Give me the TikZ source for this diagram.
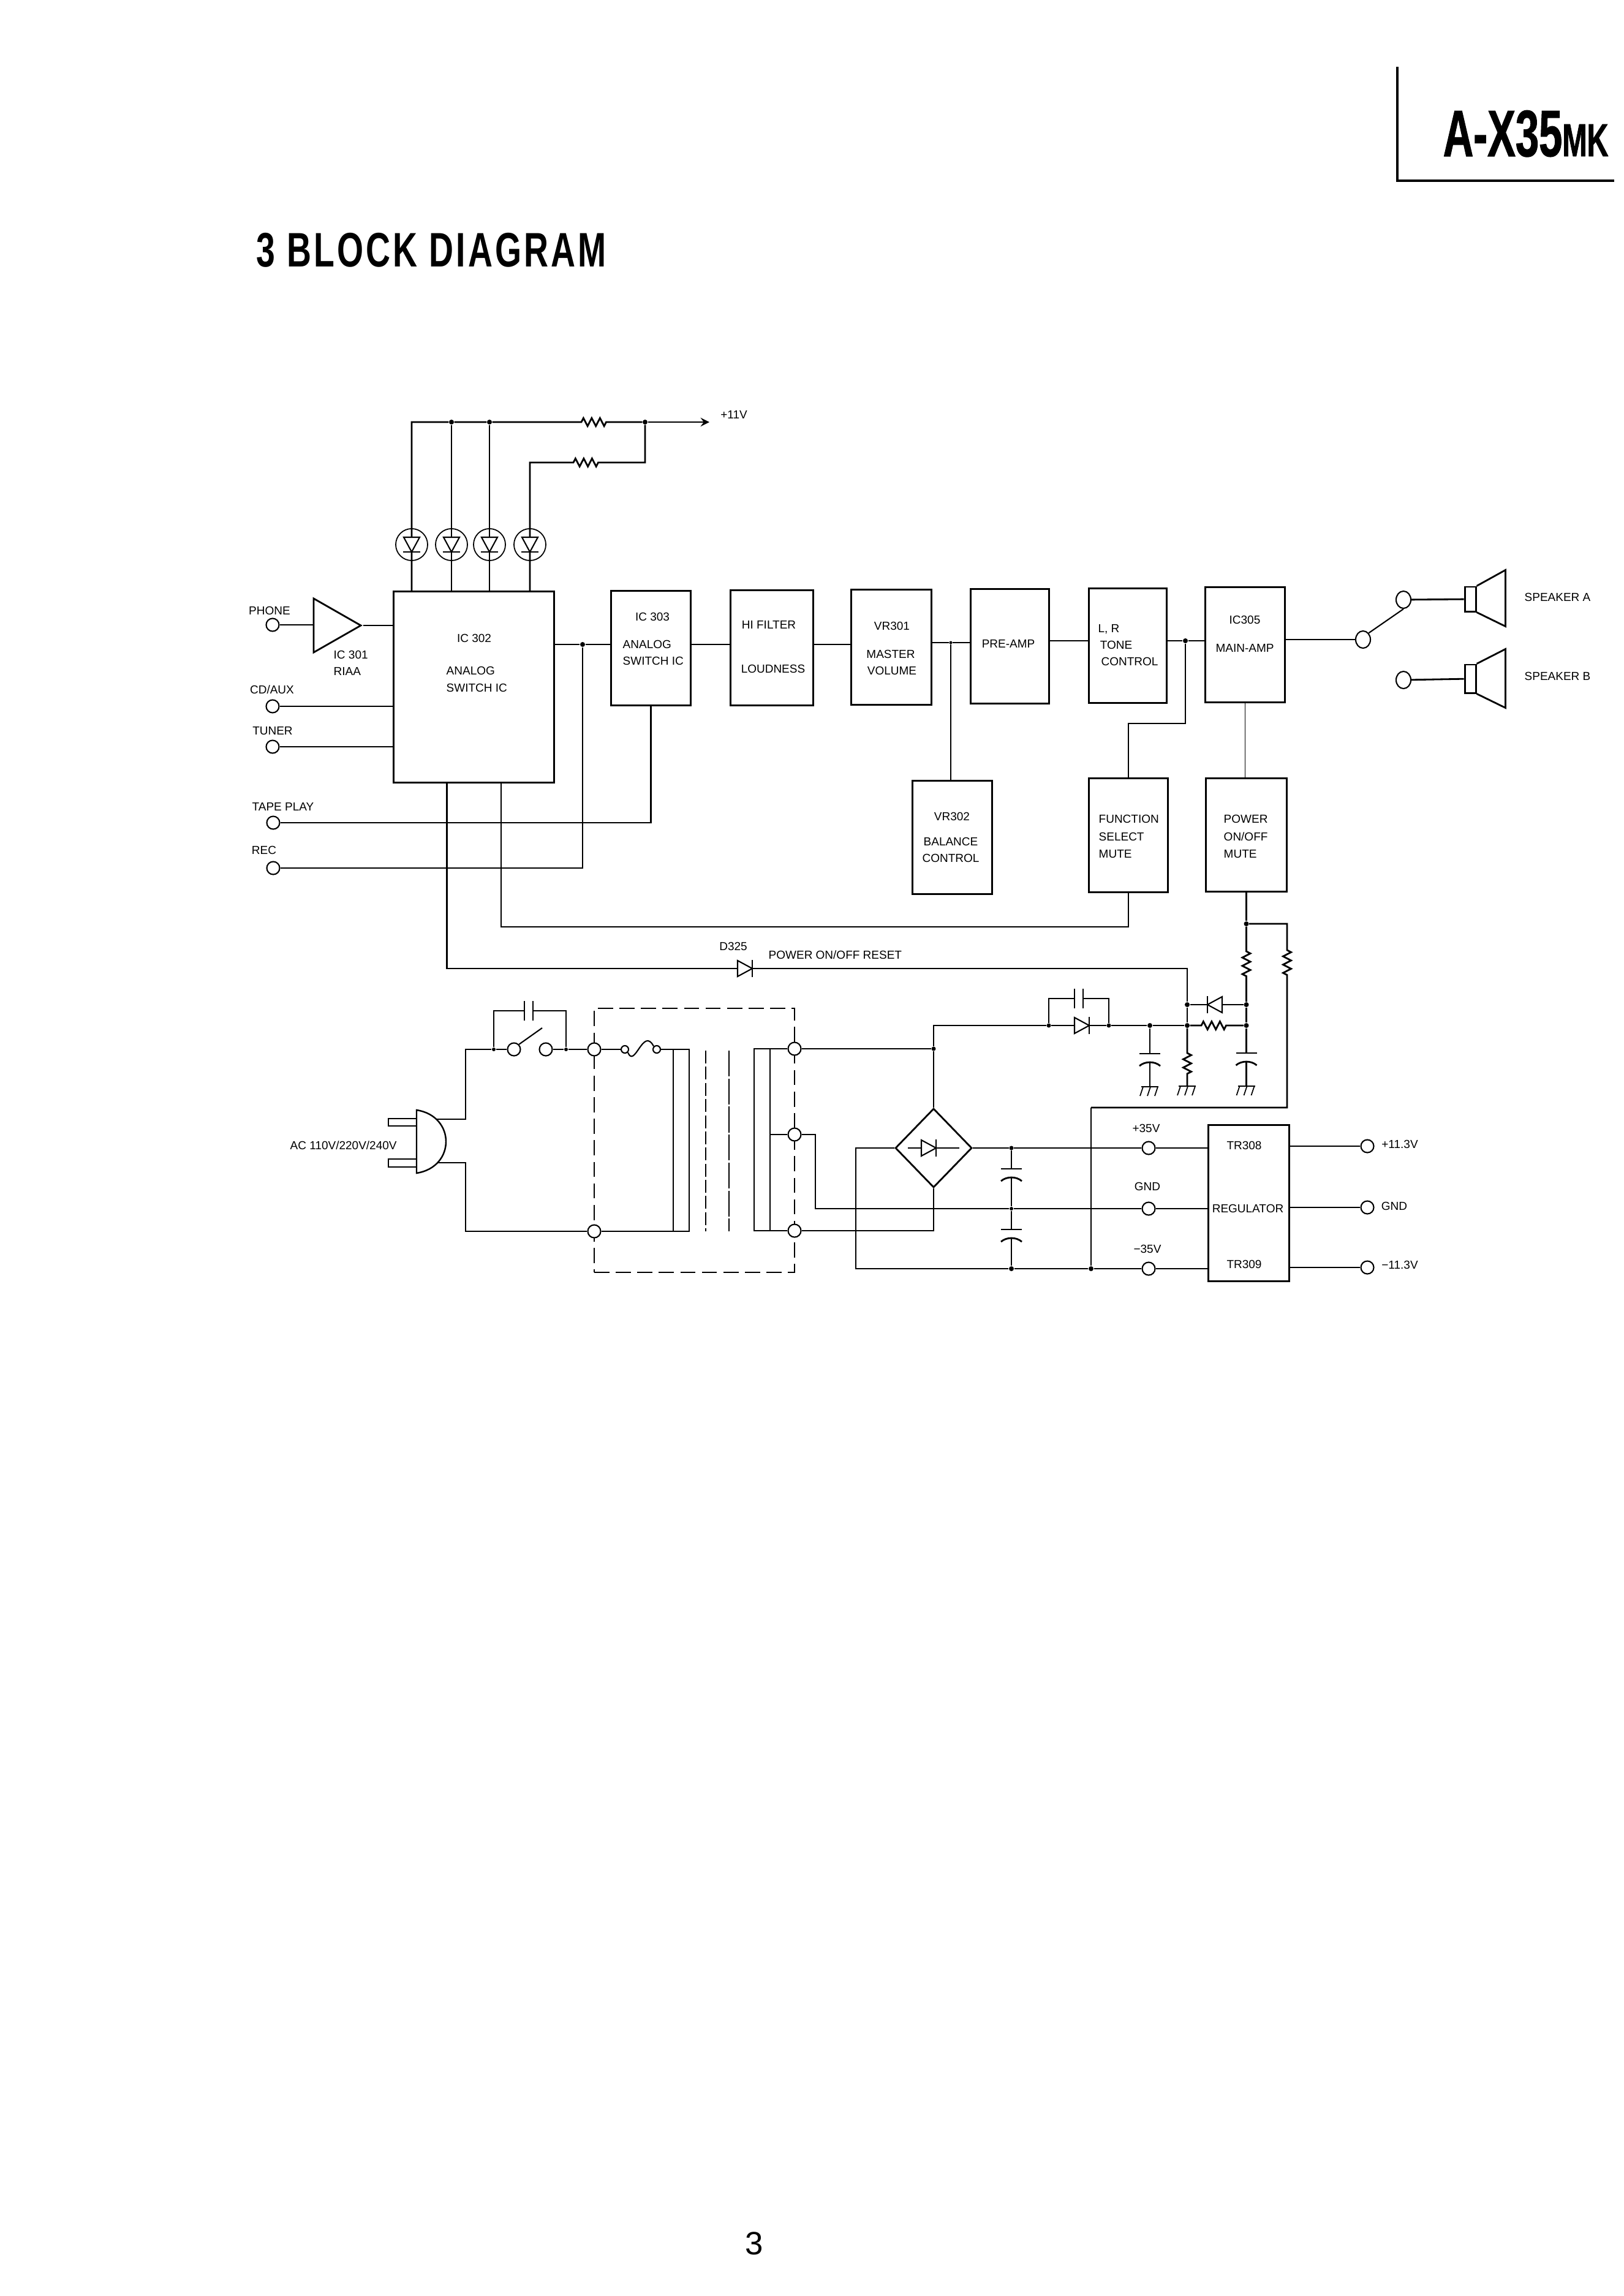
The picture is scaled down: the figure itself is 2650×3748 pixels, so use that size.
\documentclass[tikz,border=0pt]{standalone}
\usepackage{fontspec}
\setmainfont{Liberation Sans}
\newfontfamily\headfont[FakeStretch=0.70,LetterSpace=5]{Liberation Sans Bold}
\newfontfamily\modelfont[FakeStretch=0.64,FakeBold=1]{Liberation Sans Bold}
\usetikzlibrary{shapes.geometric,decorations.pathmorphing}
\begin{document}
\begin{tikzpicture}[x=0.01cm,y=-0.01cm,>=stealth,
  wire/.style={draw,line width=.8pt},
  thin wire/.style={draw,line width=.45pt},
  blockbox/.style={draw,line width=.85pt,inner sep=0},
  lab/.style={inner sep=0,font=\fontsize{5.4pt}{6pt}\selectfont},
  term/.style={circle,draw,line width=.6pt,fill=white,inner sep=0,minimum size=.21cm},
  smallterm/.style={circle,draw,line width=.6pt,fill=white,inner sep=0,minimum size=.12cm},
  spkterm/.style={ellipse,draw,line width=.6pt,fill=white,inner sep=0,minimum width=.24cm,minimum height=.28cm},
  ledring/.style={circle,draw,line width=.5pt,inner sep=0,minimum size=.52cm},
  dot/.style={circle,fill=black,inner sep=0,minimum size=.08cm},
  zz/.style={decoration={zigzag,segment length=.135cm,amplitude=.065cm}},
  diode/.pic={
    \draw[line width=.6pt,fill=white] (-12,-13) -- (-12,13) -- (12,0) -- cycle;
    \draw[line width=.8pt] (12,-14) -- (12,14);
    \coordinate (-in) at (-12,0);
    \coordinate (-out) at (12,0);
  },
  plaincap/.pic={
    \draw[line width=.6pt] (-7,-16) -- (-7,16);
    \draw[line width=.6pt] (7,-16) -- (7,16);
    \coordinate (-in) at (-7,0);
    \coordinate (-out) at (7,0);
  },
  ecap/.pic={
    \draw[line width=.8pt] (-17,-8) -- (17,-8);
    \draw[line width=.8pt] (-17,12) .. controls (-8,4) and (8,4) .. (17,12);
    \coordinate (-top) at (0,-8);
    \coordinate (-bot) at (0,6);
  },
  gnd/.pic={
    \draw[line width=.7pt] (-14,0) -- (14,0);
    \foreach \gx in {-11,1,13}
      \draw[line width=.5pt] (\gx,0) -- ++(-5,15);
    \coordinate (-top) at (0,0);
  }]
\useasboundingbox (0,0) rectangle (2650,3748);

% header
\draw[line width=1pt] (2281,109) -- (2281,295) -- (2635,295);
\node[inner sep=0,anchor=base west] (model) at (2355,255) {\modelfont\fontsize{30.5pt}{30pt}\selectfont A-X35\fontsize{21.5pt}{20pt}\selectfont MK};
\node[inner sep=0,anchor=base west] (title) at (418,435) {\headfont\fontsize{22.5pt}{24pt}\selectfont 3 BLOCK DIAGRAM};

% signal blocks
\node[blockbox,minimum width=2.61cm,minimum height=3.11cm] (ic302) at (773.5,1121.5) {};
\node[blockbox,minimum width=1.29cm,minimum height=1.86cm] (ic303) at (1062.5,1058) {};
\node[blockbox,minimum width=1.34cm,minimum height=1.87cm] (hifilter) at (1260,1057.5) {};
\node[blockbox,minimum width=1.30cm,minimum height=1.87cm] (vr301) at (1455,1056.5) {};
\node[blockbox,minimum width=1.27cm,minimum height=1.86cm] (preamp) at (1648.5,1055) {};
\node[blockbox,minimum width=1.26cm,minimum height=1.86cm] (tone) at (1841,1054) {};
\node[blockbox,minimum width=1.29cm,minimum height=1.87cm] (mainamp) at (2032.5,1052.5) {};
\node[blockbox,minimum width=1.29cm,minimum height=1.84cm] (vr302) at (1554.5,1367) {};
\node[blockbox,minimum width=1.28cm,minimum height=1.85cm] (function) at (1842,1363.5) {};
\node[blockbox,minimum width=1.31cm,minimum height=1.84cm] (power) at (2034.5,1363) {};
\node[blockbox,minimum width=1.31cm,minimum height=2.54cm] (regulator) at (2038.5,1964) {};

\node[lab] (ic302a) at (774,1042) {IC 302};
\node[lab,anchor=west] (ic302b) at (728,1095) {ANALOG};
\node[lab,anchor=west] (ic302c) at (728,1123) {SWITCH IC};
\node[lab] (ic303a) at (1065,1007) {IC 303};
\node[lab,anchor=west] (ic303b) at (1016,1052) {ANALOG};
\node[lab,anchor=west] (ic303c) at (1016,1079) {SWITCH IC};
\node[lab] (hifiltera) at (1255,1020) {HI FILTER};
\node[lab] (hifilterb) at (1262,1092) {LOUDNESS};
\node[lab] (vr301a) at (1456,1022) {VR301};
\node[lab] (vr301b) at (1454,1068) {MASTER};
\node[lab] (vr301c) at (1456,1095) {VOLUME};
\node[lab] (preampa) at (1646,1051) {PRE-AMP};
\node[lab] (tonea) at (1810,1027) {L, R};
\node[lab] (toneb) at (1822,1053) {TONE};
\node[lab] (tonec) at (1844,1080) {CONTROL};
\node[lab] (mainampa) at (2032,1012) {IC305};
\node[lab] (mainampb) at (2032,1058) {MAIN-AMP};
\node[lab] (vr302a) at (1554,1333) {VR302};
\node[lab] (vr302b) at (1552,1374) {BALANCE};
\node[lab] (vr302c) at (1552,1401) {CONTROL};
\node[lab,anchor=west] (functiona) at (1793,1337) {FUNCTION};
\node[lab,anchor=west] (functionb) at (1793,1366) {SELECT};
\node[lab,anchor=west] (functionc) at (1793,1394) {MUTE};
\node[lab,anchor=west] (powera) at (1997,1337) {POWER};
\node[lab,anchor=west] (powerb) at (1997,1366) {ON/OFF};
\node[lab,anchor=west] (powerc) at (1997,1394) {MUTE};
\node[lab] (tr308) at (2031,1870) {TR308};
\node[lab] (reglab) at (2037,1973) {REGULATOR};
\node[lab] (tr309) at (2031,2064) {TR309};

% inputs
\node[term] (phone) at (445,1020) {};
\node[term] (cdaux) at (445,1153) {};
\node[term] (tuner) at (445,1219) {};
\node[term] (tape) at (446,1343) {};
\node[term] (rec) at (446,1417) {};
\node[lab] (phonel) at (440,997) {PHONE};
\node[lab] (cdauxl) at (444,1126) {CD/AUX};
\node[lab] (tunerl) at (445,1193) {TUNER};
\node[lab,anchor=west] (tapel) at (411,1317) {TAPE PLAY};
\node[lab] (recl) at (431,1388) {REC};
\node[isosceles triangle,isosceles triangle stretches,draw,line width=.8pt,inner sep=0,minimum width=.88cm,minimum height=.77cm] (riaa) at (537.5,1021) {};
\node[lab,anchor=west] (riaaa) at (544,1069) {IC 301};
\node[lab,anchor=west] (riaab) at (544,1096) {RIAA};

\draw[wire] (phone) -- (riaa.lower side |- phone);
\draw[wire] (riaa.apex) -- (ic302.west |- riaa.apex);
\draw[wire] (cdaux) -- (ic302.west |- cdaux);
\draw[wire] (tuner) -- (ic302.west |- tuner);
\draw[wire] (tape) -| (ic303.south);
\node[dot] (sw) at (951,1052) {};
\draw[wire] (ic302.east |- sw) -- (sw) -- (ic303.west |- sw);
\draw[wire] (rec) -| (sw);
\draw[wire] (ic303.east |- sw) -- (hifilter.west |- sw);
\draw[wire] (hifilter.east |- sw) -- (vr301.west |- sw);
\node[dot,minimum size=.05cm] (bal) at (1552,1049) {};
\draw[wire] (vr301.east |- bal) -- (bal) -- (preamp.west |- bal);
\draw[thin wire] (bal) -- (bal |- vr302.north);
\node[dot] (fs) at (1935,1046) {};
\draw[wire] (preamp.east |- fs) -- (tone.west |- fs);
\draw[wire] (tone.east |- fs) -- (fs) -- (mainamp.west |- fs);
\draw[thin wire] (fs) |- (1842,1181) -- (function.north);
\draw[thin wire] (mainamp.south) -- (power.north -| mainamp.south);

% output and speakers
\node[spkterm] (outa) at (2225,1044) {};
\node[spkterm] (spkta) at (2291,979) {};
\node[spkterm] (spktb) at (2291,1110) {};
\node[blockbox,fill=white,minimum width=.18cm,minimum height=.40cm] (spka) at (2400,978) {};
\node[blockbox,fill=white,minimum width=.18cm,minimum height=.46cm] (spkb) at (2400,1108) {};
\draw[wire] (mainamp.east |- outa) -- (outa);
\draw[line width=.6pt] (outa.north east) -- (spkta.south);
\draw[wire] (spkta) -- (spka);
\draw[wire] (spktb) -- (spkb);
\draw[wire] (spka.north east) -- ++(47,-26) -- ++(0,92) -- (spka.south east);
\draw[wire] (spkb.north east) -- ++(47,-24) -- ++(0,96) -- (spkb.south east);
\node[lab,anchor=west] (spkal) at (2488,975) {SPEAKER A};
\node[lab,anchor=west] (spkbl) at (2488,1104) {SPEAKER B};

% indicators and supply rail
\node[ledring] (led1) at (672,889) {};
\node[ledring] (led2) at (737,889) {};
\node[ledring] (led3) at (799,889) {};
\node[ledring] (led4) at (865,889) {};
\node[dot] (rail1) at (737,689) {};
\node[dot] (rail2) at (799,689) {};
\node[dot] (rail3) at (1053,689) {};
\node[lab] (plus11) at (1198,677) {+11V};
\coordinate (railend) at (1158,689);
\draw[wire] (led1 |- ic302.north) -- (led1 |- rail1) -- (rail1) -- (rail2) -- (949,689) decorate[zz,decorate] {-- (992,689)} -- (rail3);
\draw[wire,->] (rail3) -- (railend);
\draw[wire] (led2 |- ic302.north) -- (rail1);
\draw[wire] (led3 |- ic302.north) -- (rail2);
\draw[wire] (led4 |- ic302.north) -- (led4 |- 0,755) -- (936,755) decorate[zz,decorate] {-- (982,755)} -- (1053,755) -- (rail3);
\foreach \ledname in {led1,led2,led3,led4}
  \pic[rotate=-90] at (\ledname) {diode};

% mute and reset lines
\node[dot] (pwr) at (2034.5,1508) {};
\draw[wire] (function.south) |- (818,1513) -- (818,1277);
\draw[wire] (power.south) -- (pwr);
\pic (d325) at (1216,1581) {diode};
\node[lab] (d325l) at (1197,1545) {D325};
\node[lab,anchor=west] (resetl) at (1254,1559) {POWER ON/OFF RESET};
\node[dot] (mutea) at (1938,1640) {};
\node[dot] (muteb) at (1938,1674) {};
\node[dot] (mutec) at (2034.5,1640) {};
\node[dot] (muted) at (2034.5,1674) {};
\node[dot] (rect) at (1877,1674) {};
\draw[wire] (729.5,1277) |- (d325-in);
\draw[wire] (d325-out) -- (1938,1581) -- (mutea);
\draw[wire] (mutea) -- (muteb);
\draw[wire] (pwr) -- (2034.5,1553) decorate[zz,decorate] {-- (2034.5,1597)} -- (mutec);
\draw[wire] (mutec) -- (muted);
\draw[wire] (pwr) -- (2101,1508) -- (2101,1551) decorate[zz,decorate] {-- (2101,1595)} -- (2101,1808) -- (1781,1808);
\pic[rotate=180] (d2) at (1983,1640) {diode};
\draw[wire] (mutec) -- (d2-in);
\draw[wire] (d2-out) -- (mutea);
\draw[wire] (muteb) -- (1961,1674) decorate[zz,decorate] {-- (2008,1674)} -- (muted);

% rectifier and filter
\node[dot,minimum size=.07cm] (sec) at (1524,1712) {};
\node[dot,minimum size=.07cm] (da) at (1712,1674) {};
\node[dot,minimum size=.07cm] (db) at (1810,1674) {};
\pic (d3) at (1766,1674) {diode};
\pic (c3) at (1761,1630) {plaincap};
\draw[wire] (sec) -- (1524,1674) -- (da);
\draw[wire] (da) -- (d3-in);
\draw[wire] (d3-out) -- (db);
\draw[wire] (db) -- (rect) -- (muteb);
\draw[wire] (da) |- (c3-in);
\draw[wire] (c3-out) -| (db);
\pic (c4) at (1877,1728) {ecap};
\pic (g1) at (1877,1774) {gnd};
\draw[wire] (rect) -- (c4-top);
\draw[wire] (c4-bot) -- (g1-top);
\pic (g2) at (1938,1773) {gnd};
\draw[wire] (muteb) -- (1938,1719) decorate[zz,decorate] {-- (1938,1757)} -- (g2-top);
\pic (c5) at (2034.5,1727) {ecap};
\pic (g3) at (2034.5,1773) {gnd};
\draw[wire] (muted) -- (c5-top);
\draw[wire] (c5-bot) -- (g3-top);

% power transformer box
\node[draw,dashed,dash pattern=on 7pt off 3pt,line width=.7pt,inner sep=0,minimum width=3.27cm,minimum height=4.31cm] (case) at (1133.5,1861.5) {};
\node[term] (pria) at (970,1713) {};
\node[term] (prib) at (970,2010) {};
\node[term] (seca) at (1297,1712) {};
\node[term] (secb) at (1297,1852) {};
\node[term] (secc) at (1297,2009) {};
\node[smallterm] (fusea) at (1020,1713) {};
\node[smallterm] (fuseb) at (1072,1713) {};
\draw[line width=.8pt,dashed,dash pattern=on 6pt off 1.5pt] (1152,1715) -- (1152,2010);
\draw[line width=.5pt,dashed,dash pattern=on 12pt off 1pt] (1190,1715) -- (1190,2010);
\draw[wire] (fuseb) -- (1125,1713) -- (1125,2010) -- (prib);
\draw[thin wire] (1099,1713) -- (1099,2010);
\draw[wire] (seca) -- (1231,1712) -- (1231,2009) -- (secc);
\draw[wire] (1257,1712) -- (1257,2009);
\draw[wire] (1257,1852) -- (secb);

% mains input
\draw[wire,fill=white] (634,1826) rectangle (680,1838);
\draw[wire,fill=white] (634,1892) rectangle (680,1905);
\draw[line width=.7pt,fill=white] (680,1812) .. controls (744,1822) and (744,1905) .. (680,1915) -- cycle;
\coordinate (plugt) at (711,1827);
\coordinate (plugb) at (714,1898);
\node[lab,anchor=west] (acl) at (473,1870) {AC 110V/220V/240V};
\node[dot,minimum size=.06cm] (swa) at (806,1713) {};
\node[dot,minimum size=.06cm] (swb) at (924,1713) {};
\node[term] (swc) at (839,1713) {};
\node[term] (swd) at (891,1713) {};
\pic (c1) at (863,1650) {plaincap};
\draw[wire] (plugt) -- (760,1827) -- (760,1713) -- (swa);
\draw[wire] (swa) -- (swc);
\draw[wire] (swd) -- (swb);
\draw[wire] (swb) -- (pria);
\draw[wire] (pria) -- (fusea);
\draw[line width=.6pt] (fusea.south east) .. controls (1036,1745) and (1050,1675) .. (fuseb.north west);
\draw[wire] (plugb) -- (760,1898) -- (760,2010) -- (prib);
\draw[wire] (swa) |- (c1-in);
\draw[wire] (c1-out) -| (swb);
\draw[line width=.6pt] (swc.north east) -- (885,1678);

% diode bridge and regulator feeds
\node[diamond,draw,line width=.8pt,inner sep=0,minimum width=1.25cm,minimum height=1.29cm] (bridge) at (1524,1874) {};
\pic (d4) at (1516,1874) {diode};
\draw[wire] (1482,1874) -- (d4-in);
\draw[wire] (d4-out) -- (1566,1874);
\node[dot,minimum size=.07cm] (fa) at (1651,1874) {};
\node[dot,minimum size=.06cm] (fb) at (1651,1973) {};
\node[dot] (fc) at (1651,2071) {};
\node[dot] (fd) at (1781,2071) {};
\node[term] (p35) at (1875,1874) {};
\node[term] (g35) at (1875,1973) {};
\node[term] (m35) at (1875,2071) {};
\node[term] (outp) at (2232,1871) {};
\node[term] (outg) at (2232,1971) {};
\node[term] (outm) at (2232,2069) {};
\node[lab] (p35l) at (1871,1842) {+35V};
\node[lab] (g35l) at (1873,1937) {GND};
\node[lab] (m35l) at (1873,2039) {−35V};
\node[lab] (outpl) at (2285,1868) {+11.3V};
\node[lab] (outgl) at (2276,1969) {GND};
\node[lab] (outml) at (2285,2065) {−11.3V};
\draw[wire] (seca) -- (sec);
\draw[wire] (sec) -- (bridge.north);
\draw[wire] (secb) -- (1331,1852) -- (1331,1973) -- (fb);
\draw[wire] (fb) -- (g35);
\draw[wire] (secc) -- (1524,2009) -- (bridge.south);
\draw[wire] (bridge.west) -- (1397,1874) -- (1397,2071) -- (fc);
\draw[wire] (bridge.east) -- (fa);
\draw[wire] (fa) -- (p35);
\draw[wire] (p35) -- (regulator.west |- p35);
\draw[wire] (g35) -- (regulator.west |- g35);
\draw[wire] (fc) -- (fd);
\draw[wire] (fd) -- (m35);
\draw[wire] (m35) -- (regulator.west |- m35);
\draw[wire] (fd) -- (1781,1808);
\pic (c6) at (1651,1916) {ecap};
\pic (c7) at (1651,2015) {ecap};
\draw[thin wire] (fa) -- (c6-top);
\draw[thin wire] (c6-bot) -- (fb);
\draw[thin wire] (fb) -- (c7-top);
\draw[thin wire] (c7-bot) -- (fc);
\draw[wire] (regulator.east |- outp) -- (outp);
\draw[wire] (regulator.east |- outg) -- (outg);
\draw[wire] (regulator.east |- outm) -- (outm);

\node[inner sep=0] (pageno) at (1231,3662) {\fontsize{15pt}{16pt}\selectfont 3};
\end{tikzpicture}
\end{document}
